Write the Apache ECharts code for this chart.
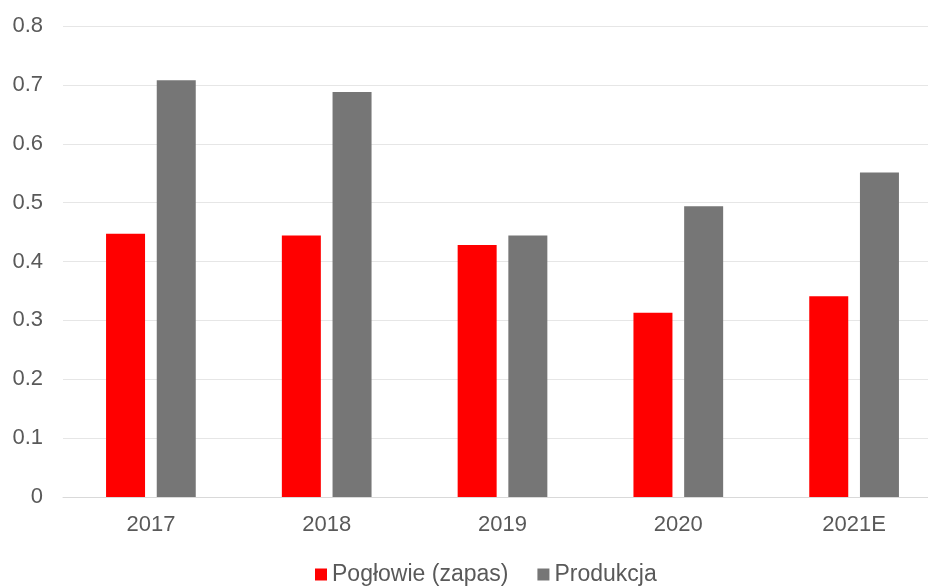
<!DOCTYPE html>
<html>
<head>
<meta charset="utf-8">
<script src="https://cdn.jsdelivr.net/npm/echarts@6/dist/echarts.min.js"></script>
<style>
  html, body { margin: 0; padding: 0; background: #fff; }
  #chart { width: 928px; height: 587px; }
</style>
</head>
<body>
<div id="chart"></div>
<script>
var years = ['2017', '2018', '2019', '2020', '2021E'];
var poglowie = [0.447, 0.444, 0.428, 0.313, 0.341];
var produkcja = [0.708, 0.688, 0.444, 0.494, 0.551];
var yTicks = [0, 0.1, 0.2, 0.3, 0.4, 0.5, 0.6, 0.7, 0.8];

var chart = echarts.init(document.getElementById('chart'));
var font = 'Liberation Sans, Arial, sans-serif';
chart.setOption({
    animation: false,
    textStyle: { fontFamily: font },
    legend: {
        top: 558,
        left: 310,
        itemWidth: 12,
        itemHeight: 12,
        itemGap: 29,
        icon: 'rect',
        textStyle: { fontSize: 23, color: '#595959', fontFamily: font },
        data: ['Pogłowie (zapas)', 'Produkcja']
    },
    grid: {
        left: 63,
        top: 26,
        right: -14,
        height: 471,
        outerBoundsMode: 'none'
    },
    xAxis: {
        type: 'category',
        data: years,
        axisTick: { show: false },
        axisLine: { lineStyle: { color: '#d9d9d9', width: 1 } },
        axisLabel: { fontSize: 22, color: '#595959', margin: 17, fontFamily: font }
    },
    yAxis: {
        type: 'value',
        min: yTicks[0],
        max: yTicks[yTicks.length - 1],
        interval: 0.1,
        axisLine: { show: false },
        axisTick: { show: false },
        splitLine: { lineStyle: { color: '#e6e6e6', width: 1 } },
        axisLabel: {
            fontSize: 22, color: '#595959', margin: 20, fontFamily: font,
            formatter: function (v) { return String(Math.round(v * 10) / 10); }
        }
    },
    series: [
        {
            name: 'Pogłowie (zapas)',
            type: 'bar',
            data: poglowie,
            barWidth: 39,
            barGap: '30%',
            itemStyle: { color: '#ff0000' }
        },
        {
            name: 'Produkcja',
            type: 'bar',
            data: produkcja,
            barWidth: 39,
            itemStyle: { color: '#767676' }
        }
    ]
});
window.onresize = function () {
    chart.resize();
};
</script>
</body>
</html>
